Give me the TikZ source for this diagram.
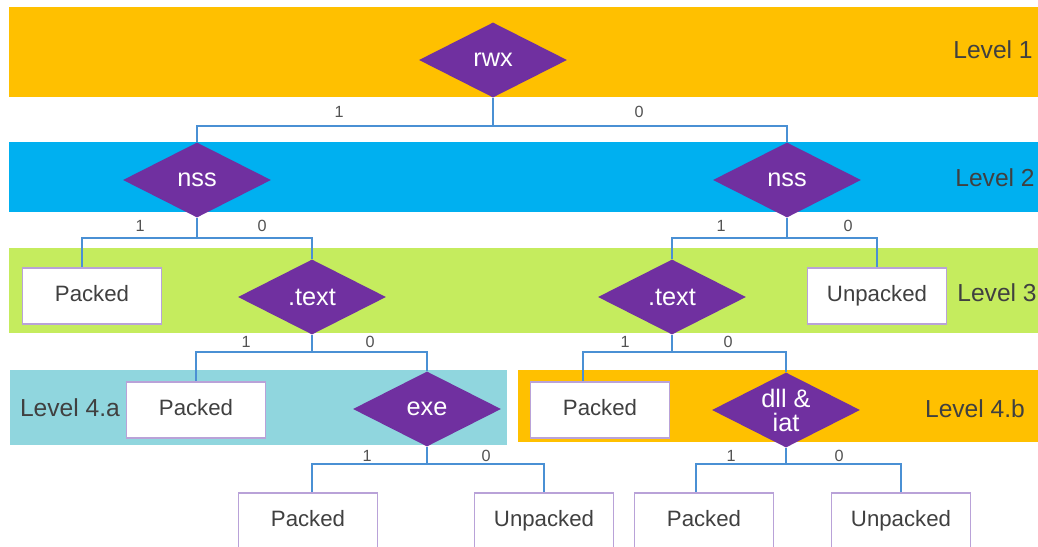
\documentclass[tikz,border=0pt]{standalone}
\usepackage{fontspec}
\setmainfont{Liberation Sans}
\usetikzlibrary{shapes.geometric, positioning, calc}
\definecolor{bandorange}{HTML}{FFC000}
\definecolor{bandblue}{HTML}{00B0F0}
\definecolor{bandgreen}{HTML}{C5EC5E}
\definecolor{bandcyan}{HTML}{90D6DE}
\definecolor{testpurple}{HTML}{7030A0}
\definecolor{leafedge}{HTML}{B9A2D8}
\definecolor{linkblue}{HTML}{4A90D4}
\definecolor{labelgray}{HTML}{404040}

\begin{document}
\begin{tikzpicture}[
    x=0.025cm, y=-0.025cm,
    test/.style={diamond, fill=testpurple, text=white, minimum width=3.7cm, minimum height=1.875cm, inner sep=0pt, aspect=2, font=\fontsize{18}{20}\selectfont, align=center},
    leaf/.style={draw=leafedge, fill=white, line width=0.8pt, minimum width=3.475cm, minimum height=1.4cm, text height=0.72em, text depth=0pt, text=labelgray, font=\fontsize{15.8}{18}\selectfont},
    level/.style={text=labelgray, font=\fontsize{17.5}{20}\selectfont},
    bit/.style={text=labelgray!90, font=\fontsize{11.5}{13}\selectfont},
    link/.style={draw=linkblue, line width=1.4pt},
]
    \clip (0,0) rectangle (1038,546);
    \fill[white] (0,0) rectangle (1038,546);

    % Level bands
    \fill[bandorange] (9,7) rectangle (1038,97);
    \fill[bandblue] (9,142) rectangle (1038,212);
    \fill[bandgreen] (9,248) rectangle (1038,333);
    \fill[bandcyan] (10,370) rectangle (507,445);
    \fill[bandorange] (518,370) rectangle (1038,442);

    \node[level] (lv1) at (993,50) {Level 1};
    \node[level] (lv2) at (995,178) {Level 2};
    \node[level] (lv3) at (997,293) {Level 3};
    \node[level] (lv4a) at (70,408) {Level 4.a};
    \node[level] (lv4b) at (975,409) {Level 4.b};

    % Tests
    \node[test] (rwx) at (493,60) {rwx};
    \node[test] (nssL) at (197,180) {nss};
    \node[test] (nssR) at (787,180) {nss};
    \node[test] (textL) at (312,297) {.text};
    \node[test] (textR) at (672,297) {.text};
    \node[test] (exe) at (427,409) {exe};
    \node[test] (dll) at (786,410) {dll \&\\[-3pt]iat};

    % Leaves
    \node[leaf] (pk3) at (92,296) {Packed};
    \node[leaf] (up3) at (877,296) {Unpacked};
    \node[leaf] (pk4a) at (196,410) {Packed};
    \node[leaf] (pk4b) at (600,410) {Packed};
    \node[leaf] (pk5a) at (308,521) {Packed};
    \node[leaf] (up5a) at (544,521) {Unpacked};
    \node[leaf] (pk5b) at (704,521) {Packed};
    \node[leaf] (up5b) at (901,521) {Unpacked};

    % Forks
    \coordinate (f1) at (493,126);
    \coordinate (f2) at (197,238);
    \coordinate (f3) at (787,238);
    \coordinate (f4) at (312,352);
    \coordinate (f5) at (672,352);
    \coordinate (f6) at (427,464);
    \coordinate (f7) at (786,464);

    % Connections
    \draw[link] (rwx.south) -- (f1) -| (nssL.north);
    \draw[link] (f1) -| (nssR.north);
    \draw[link] (nssL.south) -- (f2) -| ([xshift=-0.25cm]pk3.north);
    \draw[link] (f2) -| (textL.north);
    \draw[link] (nssR.south) -- (f3) -| (textR.north);
    \draw[link] (f3) -| (up3.north);
    \draw[link] (textL.south) -- (f4) -| (pk4a.north);
    \draw[link] (f4) -| (exe.north);
    \draw[link] (textR.south) -- (f5) -| ([xshift=-0.425cm]pk4b.north);
    \draw[link] (f5) -| (dll.north);
    \draw[link] (exe.south) -- (f6) -| ([xshift=0.1cm]pk5a.north);
    \draw[link] (f6) -| (up5a.north);
    \draw[link] (dll.south) -- (f7) -| ([xshift=-0.2cm]pk5b.north);
    \draw[link] (f7) -| (up5b.north);

    % Branch values
    \node[bit] (b1a) at (339,112) {1};
    \node[bit] (b1b) at (639,112) {0};
    \node[bit] (b2a) at (140,226) {1};
    \node[bit] (b2b) at (262,226) {0};
    \node[bit] (b3a) at (721,226) {1};
    \node[bit] (b3b) at (848,226) {0};
    \node[bit] (b4a) at (246,342) {1};
    \node[bit] (b4b) at (370,342) {0};
    \node[bit] (b5a) at (625,342) {1};
    \node[bit] (b5b) at (728,342) {0};
    \node[bit] (b6a) at (367,456) {1};
    \node[bit] (b6b) at (486,456) {0};
    \node[bit] (b7a) at (731,456) {1};
    \node[bit] (b7b) at (839,456) {0};

\end{tikzpicture}
\end{document}
